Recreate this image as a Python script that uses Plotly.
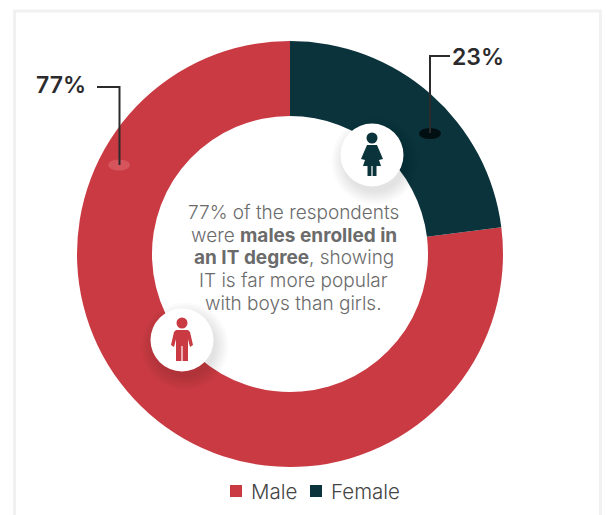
import plotly.graph_objects as go

W, H = 606, 515

categories = ["Male", "Female"]
shares = [77, 23]
colors = ["#C93A43", "#0B333B"]

value_labels = ["77%", "23%"]
center_lines = [
    "77% of the respondents",
    "were <b>males enrolled in</b>",
    "<b>an IT degree</b>, showing",
    "IT is far more popular",
    "with boys than girls.",
]
center_line_y = [212, 235, 257, 280, 303]
legend_swatch_x = [230, 310]

BODY_FONT = "Inter"
LABEL_FONT = "Inter"


def px(x):
    return x / W


def py(y):
    return 1 - y / H


def circle(cx, cy, r, fill, opacity=1.0):
    return dict(
        type="circle", xref="paper", yref="paper",
        x0=px(cx - r), x1=px(cx + r), y0=py(cy + r), y1=py(cy - r),
        fillcolor=fill, opacity=opacity, line_width=0, layer="above",
    )


def ellipse(cx, cy, rx, ry, fill, opacity=1.0):
    shape = circle(cx, cy, rx, fill, opacity)
    shape.update(y0=py(cy + ry), y1=py(cy - ry))
    return shape


def path(points, **style):
    d = "M" + " L".join(f"{px(x):.5f},{py(y):.5f}" for x, y in points)
    return dict(type="path", xref="paper", yref="paper", path=d, layer="above", **style)


def polygon(points, fill):
    shape = path(points, fillcolor=fill, line_width=0)
    shape["path"] += " Z"
    return shape


def leader(points):
    return path(points, line=dict(color="#2B2B2D", width=2))


def badge(cx, cy):
    # soft drop shadow under a white disc
    shapes = [circle(cx + 3, cy + 6, 31.5 + g, "#000000", 0.016) for g in (12, 10, 8, 6, 4, 2, 0)]
    shapes.append(circle(cx, cy, 31.5, "#FFFFFF"))
    return shapes


def man(cx, cy, fill):
    return [
        circle(cx, cy - 17, 5.5, fill),
        polygon([
            (cx - 6, cy - 10), (cx + 6, cy - 10), (cx + 8, cy - 8), (cx + 11, cy + 5), (cx + 8, cy + 7),
            (cx + 6, cy - 1), (cx + 6, cy + 21), (cx + 0.6, cy + 21), (cx + 0.6, cy + 6),
            (cx - 0.6, cy + 6), (cx - 0.6, cy + 21), (cx - 6, cy + 21), (cx - 6, cy - 1),
            (cx - 8, cy + 7), (cx - 11, cy + 5), (cx - 8, cy - 8),
        ], fill),
    ]


def woman(cx, cy, fill):
    return [
        circle(cx, cy - 17, 5.5, fill),
        polygon([
            (cx - 5, cy - 10), (cx + 5, cy - 10), (cx + 11, cy + 4), (cx + 7, cy + 5),
            (cx + 9, cy + 11), (cx + 4.5, cy + 11), (cx + 4.5, cy + 21), (cx + 0.6, cy + 21),
            (cx + 0.6, cy + 11), (cx - 0.6, cy + 11), (cx - 0.6, cy + 21), (cx - 4.5, cy + 21),
            (cx - 4.5, cy + 11), (cx - 9, cy + 11), (cx - 7, cy + 5), (cx - 11, cy + 4),
        ], fill),
    ]


shapes = [
    # open card outline around the chart
    path([(14.5, 515), (14.5, 11), (600.5, 11), (600.5, 515)], line=dict(color="#F1F1F2", width=3)),
    # callout anchors and leader lines
    ellipse(119, 165, 11, 5.5, "#D6555D"),
    ellipse(430, 133.5, 11, 5.5, "#020F12"),
    leader([(97, 87), (119.5, 87), (119.5, 165)]),
    leader([(450, 56), (430, 56), (430, 133)]),
]
shapes += badge(372, 155) + woman(372, 155, colors[1])
shapes += badge(182, 340) + man(182, 340, colors[0])

# the Male slice starts where the Female share ends, running clockwise round to 12 o'clock
fig = go.Figure(
    go.Pie(
        labels=categories,
        values=shares,
        hole=0.648,
        sort=False,
        direction="clockwise",
        rotation=shares[1] / sum(shares) * 360,
        marker=dict(colors=colors, line_width=0),
        textinfo="none",
        hoverinfo="label+percent",
        domain=dict(x=[px(77), px(503)], y=[py(467), py(41)]),
    )
)

annotations = [
    dict(x=px(293.5), y=py(y), text=line,
         font=dict(family=BODY_FONT, size=19, weight=300, color="#6B6B6B"))
    for line, y in zip(center_lines, center_line_y)
]
annotations += [
    dict(x=px(61), y=py(85), text=value_labels[0],
         font=dict(family=LABEL_FONT, size=23, weight=600, color="#2B2B2D")),
    dict(x=px(477.5), y=py(57), text=value_labels[1],
         font=dict(family=LABEL_FONT, size=23, weight=600, color="#2B2B2D")),
]
for a in annotations:
    a.update(xanchor="center", align="center")

# legend row: a square swatch followed by its category name
for name, color, sx in zip(categories, colors, legend_swatch_x):
    shapes.append(dict(
        type="rect", xref="paper", yref="paper",
        x0=px(sx), x1=px(sx + 12), y0=py(497), y1=py(485),
        fillcolor=color, line_width=0,
    ))
    annotations.append(dict(
        x=px(sx + 19), y=py(491), text=name, xanchor="left",
        font=dict(family=BODY_FONT, size=20.5, weight=300, color="#444444"),
    ))

for a in annotations:
    a.update(xref="paper", yref="paper", showarrow=False, yanchor="middle")

fig.update_layout(
    width=W,
    height=H,
    margin=dict(l=0, r=0, t=0, b=0),
    paper_bgcolor="#FFFFFF",
    shapes=shapes,
    annotations=annotations,
    showlegend=False,
)

fig.write_html("out.html")
